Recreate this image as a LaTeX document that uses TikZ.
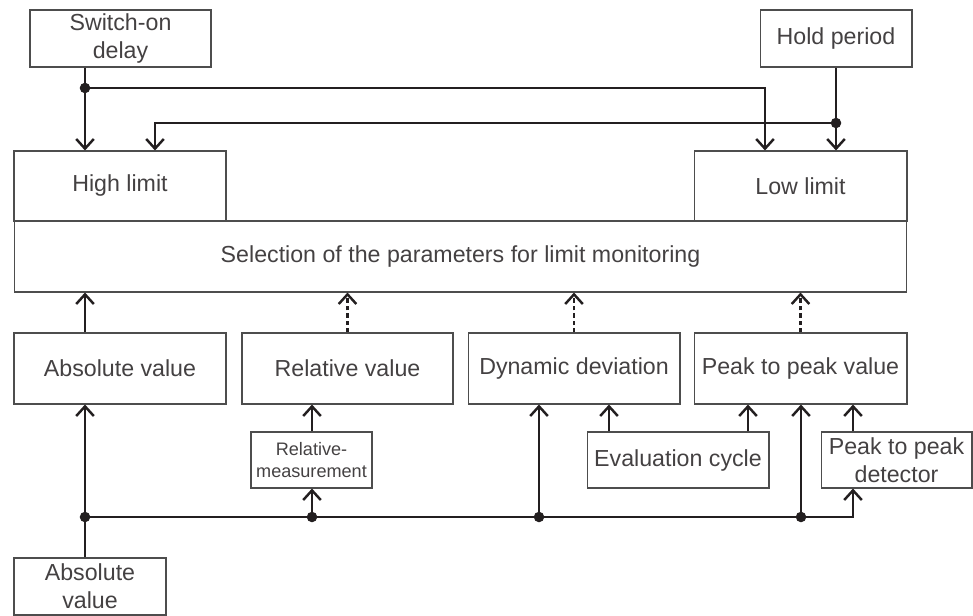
\documentclass[tikz,border=0pt]{standalone}
\usepackage{fontspec}
\setmainfont{Liberation Sans}
\usepackage{xcolor}
\usetikzlibrary{arrows.meta}
\definecolor{ink}{HTML}{231F20}
\definecolor{frame}{HTML}{4D4D4D}

\begin{document}
\begin{tikzpicture}[x=0.02cm,y=-0.02cm,font=\fontsize{13.2}{16}\selectfont,
  box/.style={draw=frame,line width=0.6pt,text=ink!85,inner sep=0pt,align=center},
  small/.style={font=\fontsize{10.3}{13}\selectfont},
  conn/.style={draw=ink,line width=1.4pt},
  tip/.style={-{Straight Barb[length=5.5pt,width=10pt]}},
  opt/.style={dash pattern=on 2.6pt off 1.6pt}]
  \useasboundingbox (0,0) rectangle (973,615);
  % boxes
  \node[box,minimum width=3.62cm,minimum height=1.14cm] (sw) at (120.5,38.5) {Switch-on\\delay};
  \node[box,minimum width=3.04cm,minimum height=1.14cm] (hold) at (836,38.5) {Hold period};
  \node[box,minimum width=4.24cm,minimum height=1.4cm] (high) at (120,186) {High limit};
  \node[box,minimum width=4.26cm,minimum height=1.4cm] (low) at (800.5,186) {Low limit};
  \node[box,minimum width=17.86cm,minimum height=1.42cm] (sel) at (460.5,256.5) {Selection of the parameters for limit monitoring};
  \node[box,minimum width=4.24cm,minimum height=1.42cm] (abs) at (120,368.5) {Absolute value};
  \node[box,minimum width=4.22cm,minimum height=1.42cm] (rel) at (347.5,368.5) {Relative value};
  \node[box,minimum width=4.24cm,minimum height=1.42cm] (dyn) at (574,368.5) {Dynamic deviation};
  \node[box,minimum width=4.26cm,minimum height=1.42cm] (ptp) at (800.5,368.5) {Peak to peak value};
  \node[box,small,minimum width=2.42cm,minimum height=1.12cm] (relm) at (311.5,460) {Relative-\\measurement};
  \node[box,minimum width=3.64cm,minimum height=1.12cm] (eval) at (678,460) {Evaluation cycle};
  \node[box,minimum width=3.02cm,minimum height=1.12cm] (det) at (896.5,460) {Peak to peak\\detector};
  \node[box,minimum width=3.04cm,minimum height=1.14cm] (absin) at (90,586.5) {Absolute\\value};
  % branch points
  \coordinate (j1) at (85,88);
  \coordinate (t1) at (765,88);
  \coordinate (j2) at (836,123);
  \coordinate (t2) at (155,123);
  \coordinate (ja) at (85,517);
  \coordinate (jb) at (312,517);
  \coordinate (jc) at (539,517);
  \coordinate (jd) at (801,517);
  \coordinate (te) at (853,517);
  \coordinate (e1) at (609,0);
  \coordinate (e2) at (748,0);
  % top
  \draw[conn,tip] (sw.south -| j1) -- (j1 |- high.north);
  \draw[conn,tip] (j1) -- (t1) -- (t1 |- low.north);
  \draw[conn,tip] (hold.south) -- (low.north -| j2);
  \draw[conn,tip] (j2) -- (t2) -- (t2 |- high.north);
  \fill[ink] (j1) circle (3pt);
  \fill[ink] (j2) circle (3pt);
  % into selection
  \draw[conn,tip] (abs.north -| j1) -- (sel.south -| j1);
  \draw[conn,tip,opt] (rel.north) -- (sel.south -| rel.north);
  \draw[conn,tip,opt] (dyn.north) -- (sel.south -| dyn.north);
  \draw[conn,tip,opt] (ptp.north) -- (sel.south -| ptp.north);
  % bottom
  \draw[conn,tip] (absin.north -| ja) -- (ja |- abs.south);
  \draw[conn,tip] (ja) -- (te) -- (te |- det.south);
  \draw[conn,tip] (jb) -- (jb |- relm.south);
  \draw[conn,tip] (relm.north -| jb) -- (jb |- rel.south);
  \draw[conn,tip] (jc) -- (jc |- dyn.south);
  \draw[conn,tip] (eval.north -| e1) -- (e1 |- dyn.south);
  \draw[conn,tip] (eval.north -| e2) -- (e2 |- ptp.south);
  \draw[conn,tip] (jd) -- (jd |- ptp.south);
  \draw[conn,tip] (det.north -| te) -- (te |- ptp.south);
  \foreach \j in {ja,jb,jc,jd}
    \fill[ink] (\j) circle (3pt);
\end{tikzpicture}
\end{document}
